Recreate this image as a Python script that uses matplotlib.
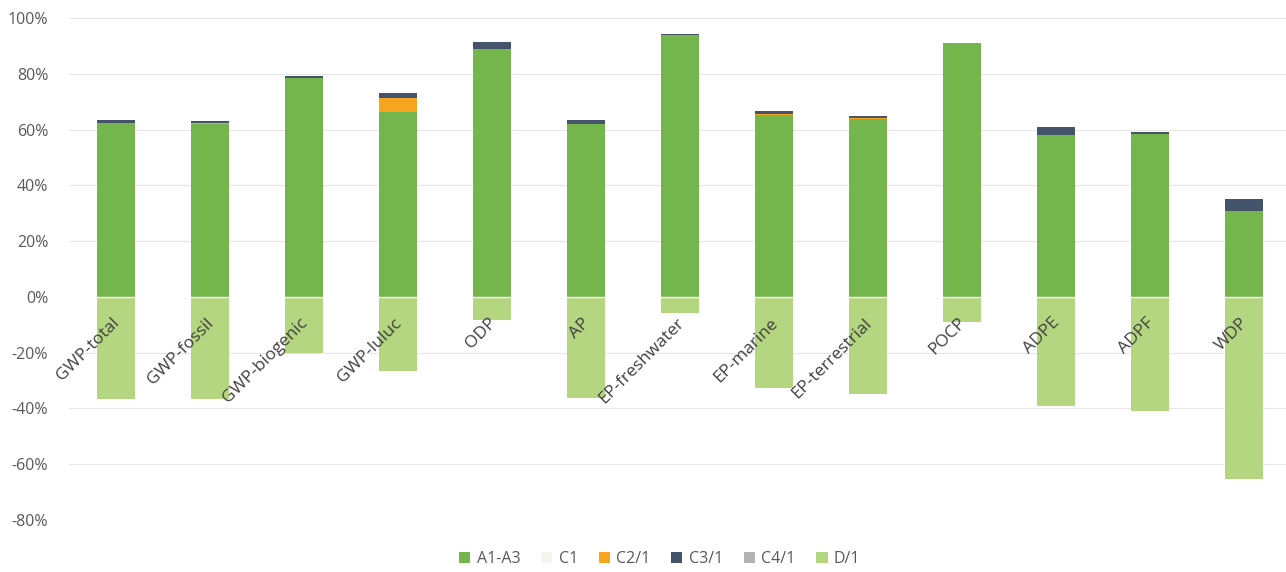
import matplotlib
matplotlib.use("Agg")
import matplotlib.pyplot as plt
import numpy as np
from matplotlib.ticker import FuncFormatter

categories = ["GWP-total", "GWP-fossil", "GWP-biogenic", "GWP-luluc", "ODP", "AP",
              "EP-freshwater", "EP-marine", "EP-terrestrial", "POCP", "ADPE", "ADPF", "WDP"]
a1_a3 = [62.2, 62.0, 78.5, 66.3, 88.9, 62.0, 94.0, 65.2, 63.8, 91.0, 58.0, 58.4, 30.8]
c1 = [0.0, 0.0, 0.0, 0.0, 0.0, 0.0, 0.0, 0.0, 0.0, 0.0, 0.0, 0.0, 0.0]
c2 = [0.3, 0.3, 0.0, 5.0, 0.0, 0.0, 0.0, 0.4, 0.3, 0.0, 0.2, 0.0, 0.0]
c3 = [1.0, 0.6, 0.7, 1.8, 2.4, 1.3, 0.4, 0.9, 0.9, 0.2, 2.6, 0.6, 4.2]
c4 = [0.0, 0.0, 0.0, 0.0, 0.0, 0.0, 0.0, 0.0, 0.0, 0.0, 0.0, 0.0, 0.0]
d1 = [-36.6, -36.6, -20.0, -26.5, -8.2, -36.2, -5.7, -32.6, -34.8, -9.0, -39.0, -40.9, -65.2]
y_ticks = [-80, -60, -40, -20, 0, 20, 40, 60, 80, 100]

series = [("A1-A3", a1_a3, "#74b64b"), ("C1", c1, "#f3f6ee"), ("C2/1", c2, "#f7a51f"),
          ("C3/1", c3, "#44546a"), ("C4/1", c4, "#b3b3b3")]
d_color = "#b5d680"

plt.rcParams['font.family'] = ['Open Sans', 'DejaVu Sans']
fig = plt.figure(figsize=(12.86, 5.72), dpi=100)
ax = fig.add_axes([0.0537, 0.0909, 0.9503, 0.8776])

x = np.arange(len(categories))
w = 0.4
bottom = np.zeros(len(categories))
handles = []
for name, vals, col in series:
    v = np.array(vals)
    h = ax.bar(x, v, w, bottom=bottom, color=col, label=name, zorder=3)
    bottom += v
    handles.append(h)
hd = ax.bar(x, d1, w, color=d_color, label="D/1", zorder=3)
handles.append(hd)

ax.set_xlim(-0.5, len(categories) - 0.5)
ax.set_ylim(-80, 100)
ax.set_yticks(y_ticks)
ax.yaxis.set_major_formatter(FuncFormatter(lambda v, p: f"{int(v)}%"))
ax.tick_params(axis='y', length=0, labelsize=11.5, labelcolor="#595959", pad=15)
ax.set_xticks([])
ax.grid(axis='y', color="#e6e6e6", linewidth=0.8, zorder=0)
ax.axhline(0, color="#ffffff", linewidth=1.0, zorder=4)
for s in ax.spines.values():
    s.set_visible(False)

for i, c in enumerate(categories):
    ax.annotate(c, xy=(i, 0), xytext=(-3, -13), textcoords="offset points",
                rotation=45, rotation_mode="anchor", ha="right", va="top",
                fontsize=12.5, color="#404040", zorder=5)

leg = fig.legend(handles=handles, labels=[s[0] for s in series] + ["D/1"],
                 loc="lower center", bbox_to_anchor=(0.513, -0.016), ncol=6, frameon=False,
                 fontsize=11.5, handlelength=0.7, handleheight=0.7, handletextpad=0.4,
                 columnspacing=1.3, labelcolor="#595959")

fig.savefig("out.png", dpi=100)
